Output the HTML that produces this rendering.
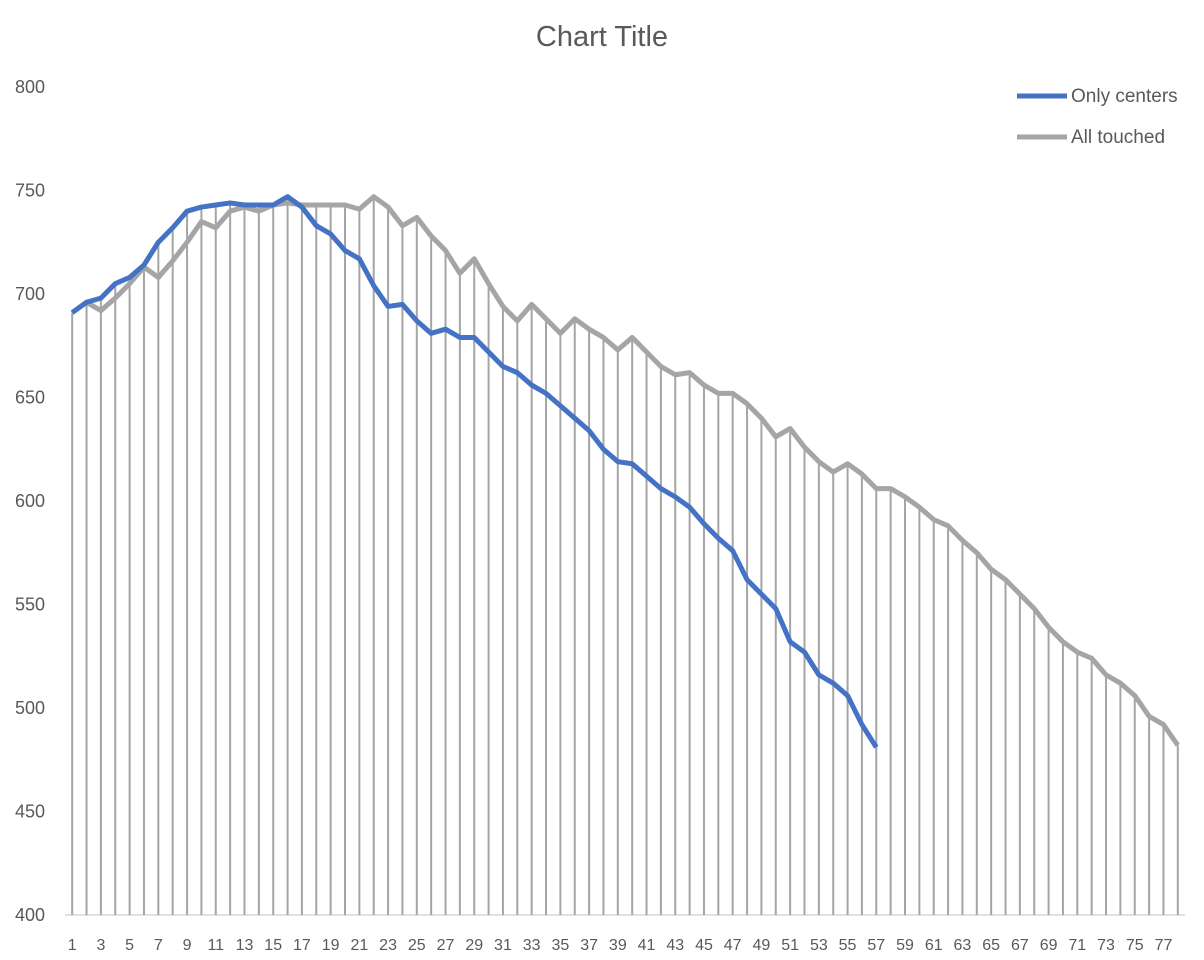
<!DOCTYPE html>
<html><head><meta charset="utf-8"><style>
body{margin:0;background:#fff;}
svg{display:block;font-family:"Liberation Sans",sans-serif;}
</style></head><body>
<svg id="chart" width="1204" height="960" viewBox="0 0 1204 960">
<text x="602" y="46" text-anchor="middle" font-size="29" fill="#595959">Chart Title</text>
<g id="yaxis"></g>
<g id="xaxis"></g>
<g id="drops"></g>
<g id="series"></g>
<g>
<line x1="1017" y1="96" x2="1067" y2="96" stroke="#4472c4" stroke-width="5"/>
<text x="1071" y="102" font-size="19" fill="#595959">Only centers</text>
<line x1="1017" y1="137" x2="1067" y2="137" stroke="#a5a5a5" stroke-width="5"/>
<text x="1071" y="143" font-size="19" fill="#595959">All touched</text>
</g>
</svg>
<script>
const yTicks=[400,450,500,550,600,650,700,750,800];
const onlyCenters=[691,696,698,705,708,714,725,732,740,742,743,744,743,743,743,747,742,733,729,721,717,704,694,695,687,681,683,679,679,672,665,662,656,652,646,640,634,625,619,618,612,606,602,597,589,582,576,562,555,548,532,527,516,512,506,492,481];
const allTouched=[691,696,692,698,705,713,708,716,725,735,732,740,742,740,743,744,743,743,743,743,741,747,742,733,737,728,721,710,717,705,694,687,695,688,681,688,683,679,673,679,672,665,661,662,656,652,652,647,640,631,635,626,619,614,618,613,606,606,602,597,591,588,581,575,567,562,555,548,539,532,527,524,516,512,506,496,492,482];
const categories=allTouched.map((_,i)=>i+1);
const NS="http://www.w3.org/2000/svg";
const L=65,R=1185,T=87,B=915,ymin=400,ymax=800;
const n=categories.length,step=(R-L)/n;
const xs=i=>L+step*(i+0.5);
const ys=v=>B-(v-ymin)/(ymax-ymin)*(B-T);
function mk(tag,parent,attrs){const e=document.createElementNS(NS,tag);for(const k in attrs)e.setAttribute(k,attrs[k]);parent.appendChild(e);return e;}
const ya=document.getElementById('yaxis');
yTicks.forEach(t=>{const e=mk('text',ya,{x:45,y:ys(t)+6,'text-anchor':'end','font-size':18,fill:'#595959'});


e.textContent=t;});
const xa=document.getElementById('xaxis');
const ax=mk('line',xa,{x1:L,x2:R,y1:B,y2:B,stroke:'#d9d9d9','stroke-width':1.5});


categories.forEach((c,i)=>{if(i%2)return;const e=mk('text',xa,{x:xs(i),y:950,'text-anchor':'middle','font-size':16,fill:'#595959'});


e.textContent=c;});
const dg=document.getElementById('drops');
categories.forEach((c,i)=>{const v=Math.max(allTouched[i],onlyCenters[i]!==undefined?onlyCenters[i]:-Infinity);
const e=mk('line',dg,{x1:xs(i),x2:xs(i),y1:ys(v),y2:B,stroke:'#a5a5a5','stroke-width':2});

});
const sg=document.getElementById('series');
[[allTouched,'#a5a5a5','series-all-touched'],[onlyCenters,'#4472c4','series-only-centers']].forEach(([d,col,nm])=>{
const p=mk('polyline',sg,{points:d.map((v,i)=>xs(i)+','+ys(v)).join(' '),fill:'none',stroke:col,'stroke-width':5,'stroke-linejoin':'round'});

});
</script>
</body></html>
